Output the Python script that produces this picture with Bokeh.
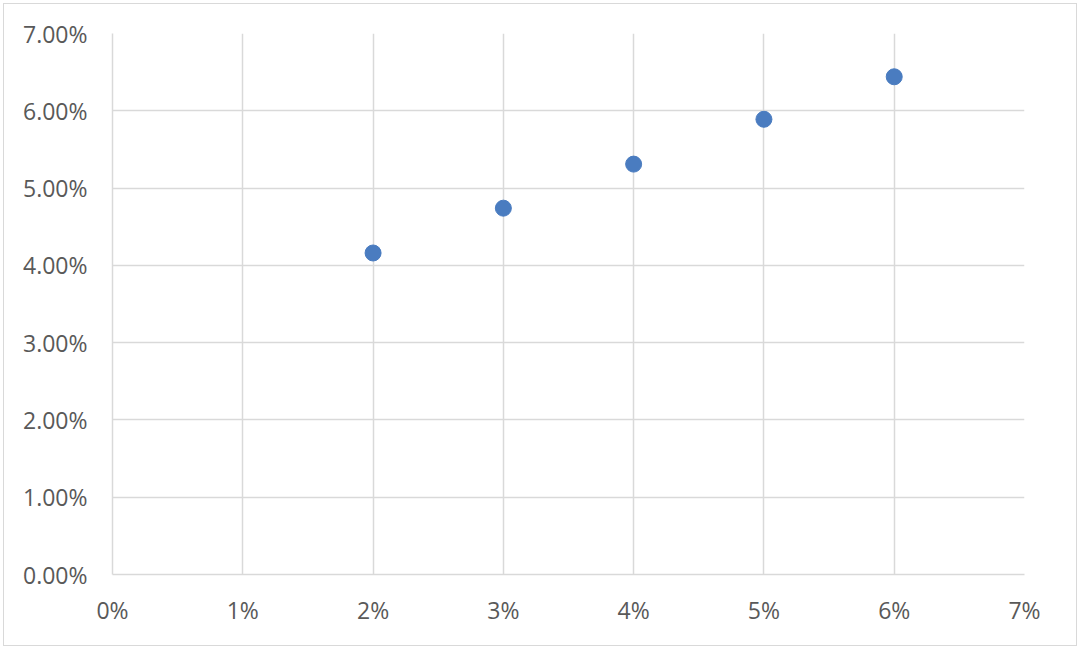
from bokeh.plotting import figure
from bokeh.models import FixedTicker, PrintfTickFormatter, Range1d
from bokeh.embed import file_html
from bokeh.resources import INLINE

# data (percent units)
x_vals = [2, 3, 4, 5, 6]
y_vals = [4.16, 4.74, 5.31, 5.89, 6.44]
x_ticks = [0, 1, 2, 3, 4, 5, 6, 7]
y_ticks = [0, 1, 2, 3, 4, 5, 6, 7]

p = figure(width=1074, height=643, output_backend="svg", toolbar_location=None,
           x_range=Range1d(0, 7), y_range=Range1d(0, 7),
           min_border_left=108, min_border_right=54, min_border_top=29, min_border_bottom=73)
p.styles = {"border": "1.5px solid #d9d9d9", "box-sizing": "border-box", "margin": "3px"}
p.outline_line_color = None

p.scatter(x_vals, y_vals, size=16, fill_color="#4A7CC0", line_color="#4A7CC0", line_width=1)

grid_col = "#d9d9d9"
for ax in (p.xaxis[0], p.yaxis[0]):
    ax.major_tick_line_color = None
    ax.minor_tick_line_color = None
    ax.axis_line_color = grid_col
    ax.axis_line_width = 1.5
    ax.major_label_text_color = "#595959"
    ax.major_label_text_font = "Open Sans"
    ax.major_label_text_font_size = "23px"

p.xaxis.ticker = FixedTicker(ticks=x_ticks)
p.yaxis.ticker = FixedTicker(ticks=y_ticks)
p.xaxis.formatter = PrintfTickFormatter(format="%d%%")
p.yaxis.formatter = PrintfTickFormatter(format="%.2f%%")
p.xaxis.major_label_standoff = 13
p.yaxis.major_label_standoff = 19

p.xgrid.grid_line_color = grid_col
p.ygrid.grid_line_color = grid_col
p.xgrid.grid_line_width = 1.5
p.ygrid.grid_line_width = 1.5

open("out.html", "w").write(file_html(p, INLINE))
